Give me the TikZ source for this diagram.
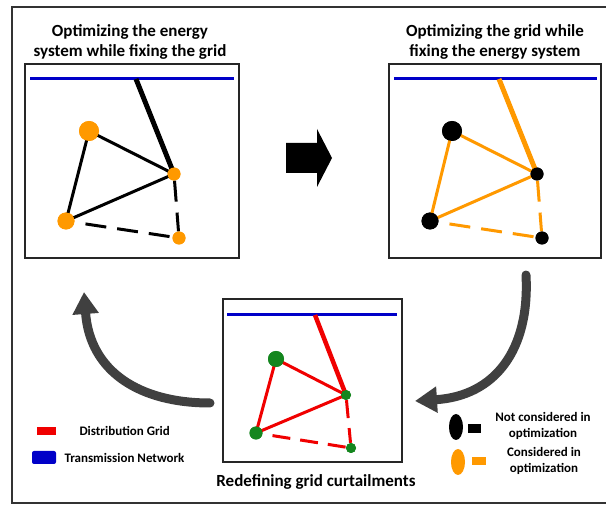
\documentclass[tikz,border=0pt]{standalone}
\usepackage{fontspec}
\setmainfont{Carlito}
\usetikzlibrary{arrows.meta}
\definecolor{tnblue}{HTML}{0000C8}
\definecolor{optorange}{HTML}{FF9900}
\definecolor{dgred}{HTML}{F00000}
\definecolor{busgreen}{HTML}{14861E}
\definecolor{arrowgray}{HTML}{404040}
\begin{document}
\begin{tikzpicture}[x=1pt,y=-1pt,
  panelbox/.style={draw=black!85, line width=1.3pt, fill=white},
  tnline/.style={draw=tnblue, line width=3pt},
  bus/.style={circle, inner sep=0pt, minimum size=#1},
  gline/.style={line width=3pt},
  feeder/.style={line width=5pt},
  dline/.style={line width=3pt, dash pattern=on 21pt off 11pt},
  title/.style={font=\fontsize{17}{20}\selectfont\bfseries, align=center},
  legtext/.style={font=\fontsize{13}{16}\selectfont\bfseries, align=center},
  bigarrow/.style={draw=arrowgray, line width=9pt, line cap=round, -{Triangle[length=22pt,width=25pt]}}
]
\useasboundingbox (0,0) rectangle (606,505);
\fill[white] (0,0) rectangle (606,505);
% outer frame (right side cut off)
\draw[black!80, line width=1.3pt] (606,7) -- (12,7) -- (12,503) -- (606,503);

% ---------- panel 1 ----------
\node[title] (t1) at (130,42) {Optimizing the energy\\system while fixing the grid};
\draw[panelbox] (25,64) rectangle (239,258);
\draw[tnline] (30,79) -- (234,79);
\coordinate (p1t) at (136,79);
\node[bus=20pt, fill=optorange] (p1a) at (89,131) {};
\node[bus=13pt, fill=optorange] (p1b) at (174,174) {};
\node[bus=17pt, fill=optorange] (p1c) at (66,221) {};
\node[bus=13pt, fill=optorange] (p1d) at (179,238) {};
\draw[feeder] (p1t) -- (p1b.center);
\draw[gline] (p1a.center) -- (p1b.center);
\draw[gline] (p1a.center) -- (p1c.center);
\draw[gline] (p1c.center) -- (p1b.center);
\draw[dline, dash phase=21pt] (p1c) -- (p1d);
\draw[dline] (p1b) -- (p1d);
\node[bus=20pt, fill=optorange] at (p1a) {};
\node[bus=13pt, fill=optorange] at (p1b) {};
\node[bus=17pt, fill=optorange] at (p1c) {};
\node[bus=13pt, fill=optorange] at (p1d) {};

% ---------- big arrow ----------
\fill[black] (286,143) -- (317,143) -- (317,129) -- (332,158) -- (317,187) -- (317,173) -- (286,173) -- cycle;

% ---------- panel 2 ----------
\node[title] (t2) at (495,42) {Optimizing the grid while\\fixing the energy system};
\draw[panelbox] (389,64) rectangle (601,258);
\draw[tnline] (394,79) -- (597,79);
\coordinate (p2t) at (499,79);
\node[bus=20pt, fill=black] (p2a) at (452,131) {};
\node[bus=13pt, fill=black] (p2b) at (537,174) {};
\node[bus=17pt, fill=black] (p2c) at (430,221) {};
\node[bus=13pt, fill=black] (p2d) at (542,238) {};
\draw[feeder, optorange] (p2t) -- (p2b.center);
\draw[gline, optorange] (p2a.center) -- (p2b.center);
\draw[gline, optorange] (p2a.center) -- (p2c.center);
\draw[gline, optorange] (p2c.center) -- (p2b.center);
\draw[dline, optorange, dash phase=21pt] (p2c) -- (p2d);
\draw[dline, optorange] (p2b) -- (p2d);
\node[bus=20pt, fill=black] at (p2a) {};
\node[bus=13pt, fill=black] at (p2b) {};
\node[bus=17pt, fill=black] at (p2c) {};
\node[bus=13pt, fill=black] at (p2d) {};

% ---------- panel 3 ----------
\draw[panelbox] (223,299) rectangle (402,462);
\draw[tnline] (227,315) -- (397,315);
\coordinate (p3t) at (315,315);
\node[bus=16pt, fill=busgreen] (p3a) at (276,359) {};
\node[bus=10pt, fill=busgreen] (p3b) at (346,395) {};
\node[bus=13pt, fill=busgreen] (p3c) at (256,433) {};
\node[bus=10pt, fill=busgreen] (p3d) at (351,448) {};
\draw[feeder, dgred, line width=4.5pt] (p3t) -- (p3b.center);
\draw[gline, dgred] (p3a.center) -- (p3b.center);
\draw[gline, dgred] (p3a.center) -- (p3c.center);
\draw[gline, dgred] (p3c.center) -- (p3b.center);
\draw[dline, dgred, dash pattern=on 18pt off 10pt, dash phase=18pt] (p3c) -- (p3d);
\draw[dline, dgred, dash pattern=on 18pt off 10pt] (p3b) -- (p3d);
\node[bus=16pt, fill=busgreen] at (p3a) {};
\node[bus=10pt, fill=busgreen] at (p3b) {};
\node[bus=13pt, fill=busgreen] at (p3c) {};
\node[bus=10pt, fill=busgreen] at (p3d) {};
\node[title] (t3) at (316,482) {Redefining grid curtailments};

% ---------- curved arrows ----------
\coordinate (la0) at (210,403);
\coordinate (la1) at (84,292);
\draw[bigarrow] (la0) .. controls (140,403) and (90,372) .. (la1);
\coordinate (ra0) at (526,275);
\coordinate (ra1) at (415,401);
\draw[bigarrow] (ra0) .. controls (530,350) and (495,396) .. (ra1);

% ---------- legend left ----------
\fill[dgred] (37,427) rectangle (56,435);
\node[legtext, anchor=west] (lg1) at (76,431) {Distribution Grid};
\fill[tnblue, rounded corners=2pt] (32,451) rectangle (56,464);
\node[legtext, anchor=west] (lg2) at (61,458) {Transmission Network};

% ---------- legend right ----------
\fill[black] (456,427) ellipse [x radius=7, y radius=13];
\fill[black] (468,424) rectangle (481,433);
\node[legtext] (lg3) at (543,426) {Not considered in\\optimization};
\fill[optorange] (458,462) ellipse [x radius=7, y radius=13];
\fill[optorange] (472,457) rectangle (486,465);
\node[legtext] (lg4) at (544,461) {Considered in\\optimization};
\end{tikzpicture}
\end{document}
